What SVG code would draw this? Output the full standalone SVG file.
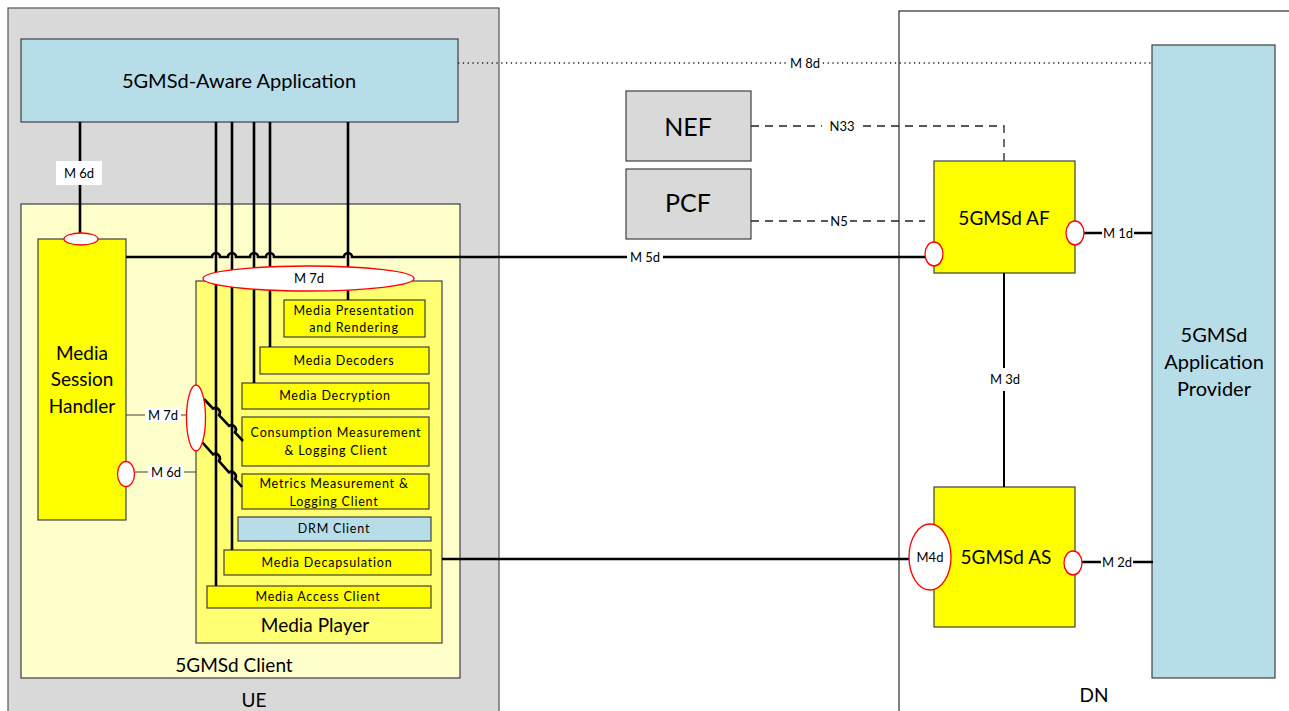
<svg xmlns="http://www.w3.org/2000/svg" width="1289" height="711" viewBox="0 0 1289 711">
<style>
text{font-family:Lato,"Liberation Sans",sans-serif;fill:#000;text-anchor:middle}
.big{font-size:20px}
.mid{font-size:19px}
.sm{font-size:13px}
.in{font-size:12.5px;letter-spacing:0.8px}
.box{stroke:#404040;stroke-width:1.2}
.yel{fill:#ffff00}
.blue{fill:#b7dde8}
.gray{fill:#d9d9d9}
.port{fill:#fff;stroke:#ff0000;stroke-width:1.3}
.thick{fill:none;stroke:#000;stroke-width:2.6}
.thin{fill:none;stroke:#404040;stroke-width:1.2}
.dash{fill:none;stroke:#222;stroke-width:1.3;stroke-dasharray:8 6}
.dot{fill:none;stroke:#222;stroke-width:1.3;stroke-dasharray:1.3 3.5}
.lbg{fill:#fff}
</style>
<rect width="1289" height="711" fill="#fff"/>
<g id="ue">
<rect x="8" y="8" width="491" height="720" class="gray" stroke="#555" stroke-width="1.2"/>
<text x="254" y="707" class="mid">UE</text>
</g>
<g id="dn">
<rect x="899" y="11" width="420" height="720" fill="#fff" stroke="#000" stroke-width="1"/>
<text x="1094" y="702" class="mid">DN</text>
</g>
<g id="app">
<rect x="21" y="39" width="437" height="83" class="box blue"/>
<text x="239" y="88" class="big">5GMSd-Aware Application</text>
</g>
<g id="client">
<rect x="21" y="204" width="439" height="474" fill="#ffffcc" class="box"/>
<text x="234" y="672" class="mid">5GMSd Client</text>
</g>
<g id="msh">
<rect x="38" y="239" width="88" height="281" class="box yel"/>
<text x="82" y="360" class="mid">Media</text>
<text x="82" y="386" class="mid">Session</text>
<text x="82" y="413" class="mid">Handler</text>
</g>
<g id="player">
<rect x="196" y="281" width="246" height="362" fill="#ffff73" class="box"/>
<text x="315" y="632" class="mid">Media Player</text>
</g>
<g id="mpr">
<rect x="284" y="300" width="141" height="37" class="box yel"/>
<text x="354" y="315" class="in">Media Presentation</text>
<text x="354" y="332" class="in">and Rendering</text>
</g>
<g id="decoders">
<rect x="260" y="347" width="169" height="27" class="box yel"/>
<text x="344" y="365" class="in">Media Decoders</text>
</g>
<g id="decryption">
<rect x="242" y="383" width="187" height="26" class="box yel"/>
<text x="335" y="400" class="in">Media Decryption</text>
</g>
<g id="consumption">
<rect x="242" y="417" width="187" height="49" class="box yel"/>
<text x="336" y="437" class="in">Consumption Measurement</text>
<text x="336" y="455" class="in">&amp; Logging Client</text>
</g>
<g id="metrics">
<rect x="242" y="474" width="187" height="35" class="box yel"/>
<text x="334" y="488" class="in">Metrics Measurement &amp;</text>
<text x="334" y="506" class="in">Logging Client</text>
</g>
<g id="drm">
<rect x="238" y="517" width="193" height="24" class="box blue"/>
<text x="334" y="533" class="in">DRM Client</text>
</g>
<g id="decap">
<rect x="224" y="550" width="207" height="25" class="box yel"/>
<text x="327" y="567" class="in">Media Decapsulation</text>
</g>
<g id="access">
<rect x="207" y="586" width="224" height="22" class="box yel"/>
<text x="318" y="601" class="in">Media Access Client</text>
</g>
<g id="nef">
<rect x="626" y="91" width="125" height="70" class="box gray"/>
<text x="688" y="136" font-size="25px">NEF</text>
</g>
<g id="pcf">
<rect x="626" y="169" width="125" height="70" class="box gray"/>
<text x="688" y="212" font-size="25px">PCF</text>
</g>
<g id="af">
<rect x="934" y="161" width="141" height="112" class="box yel"/>
<text x="1004" y="225" class="mid">5GMSd AF</text>
</g>
<g id="as">
<rect x="934" y="487" width="141" height="140" class="box yel"/>
<text x="1006" y="564" class="mid">5GMSd AS</text>
</g>
<g id="provider">
<rect x="1152" y="45" width="123" height="633" class="box blue"/>
<text x="1214" y="342" class="big">5GMSd</text>
<text x="1214" y="369" class="big">Application</text>
<text x="1214" y="396" class="big">Provider</text>
</g>
<g id="connectors">
<line x1="80" y1="122" x2="80" y2="233" class="thick"/>
<rect x="56" y="161" width="46" height="24" class="lbg"/>
<text x="79" y="178" class="sm">M 6d</text>
<line x1="216" y1="122" x2="216" y2="586" class="thick"/>
<line x1="232" y1="122" x2="232" y2="550" class="thick"/>
<line x1="254" y1="122" x2="254" y2="383" class="thick"/>
<line x1="270" y1="122" x2="270" y2="347" class="thick"/>
<line x1="348" y1="122" x2="348" y2="300" class="thick"/>
<path d="M126 257 H212 A4 4 0 0 1 220 257 H228 A4 4 0 0 1 236 257 H250 A4 4 0 0 1 258 257 H266 A4 4 0 0 1 274 257 H344 A4 4 0 0 1 352 257 H925" class="thick"/>
<rect x="627" y="250" width="36" height="14" class="lbg"/>
<text x="645" y="262" class="sm">M 5d</text>
<line x1="442" y1="559" x2="909" y2="559" class="thick"/>
<path d="M204 399 L213 408.7 A4.5 4.5 0 0 1 219 415.2 L229 425.9 A4.5 4.5 0 0 1 235 432.4 L243 441" class="thick"/>
<path d="M202 442 L213 454.4 A4.6 4.6 0 0 1 219 461.1 L229 472.4 A4.6 4.6 0 0 1 235 479.1 L242 487" class="thick"/>
<line x1="126" y1="415" x2="187" y2="415" class="thin"/>
<rect x="145" y="408" width="36" height="14" class="lbg"/>
<text x="163" y="420" class="sm">M 7d</text>
<line x1="135" y1="472" x2="196" y2="472" class="thin"/>
<rect x="148" y="465" width="36" height="14" class="lbg"/>
<text x="166" y="477" class="sm">M 6d</text>
<line x1="458" y1="63" x2="1152" y2="63" class="dot"/>
<rect x="788" y="56" width="34" height="14" class="lbg"/>
<text x="805" y="68" class="sm">M 8d</text>
<path d="M751 126 H1004 V161" class="dash"/>
<rect x="822" y="119" width="40" height="14" class="lbg"/>
<text x="842" y="131" class="sm">N33</text>
<line x1="751" y1="221" x2="925" y2="221" class="dash"/>
<rect x="828" y="214" width="22" height="14" class="lbg"/>
<text x="839" y="226" class="sm">N5</text>
<line x1="1084" y1="233" x2="1152" y2="233" class="thick"/>
<rect x="1102" y="226" width="32" height="14" class="lbg"/>
<text x="1118" y="238" class="sm">M 1d</text>
<line x1="1082" y1="562" x2="1153" y2="562" class="thick"/>
<rect x="1101" y="555" width="32" height="14" class="lbg"/>
<text x="1117" y="567" class="sm">M 2d</text>
<line x1="1004" y1="273" x2="1004" y2="487" stroke="#000" stroke-width="2"/>
<rect x="987" y="368" width="36" height="23" class="lbg"/>
<text x="1005" y="384" class="sm">M 3d</text>
</g>
<g id="ports">
<ellipse cx="81" cy="239" rx="17" ry="6" class="port"/>
<ellipse cx="126" cy="474" rx="8.5" ry="12.5" class="port"/>
<ellipse cx="196" cy="418" rx="9.5" ry="33" class="port"/>
<ellipse cx="308.5" cy="278.5" rx="105.5" ry="12.5" class="port"/>
<text x="309" y="283" class="sm">M 7d</text>
<ellipse cx="934" cy="254" rx="9" ry="12" class="port"/>
<ellipse cx="1075" cy="233" rx="9" ry="12" class="port"/>
<ellipse cx="930" cy="557" rx="21" ry="33" class="port"/>
<text x="930" y="562" class="sm">M4d</text>
<ellipse cx="1073" cy="563" rx="9" ry="12" class="port"/>
</g>
</svg>
